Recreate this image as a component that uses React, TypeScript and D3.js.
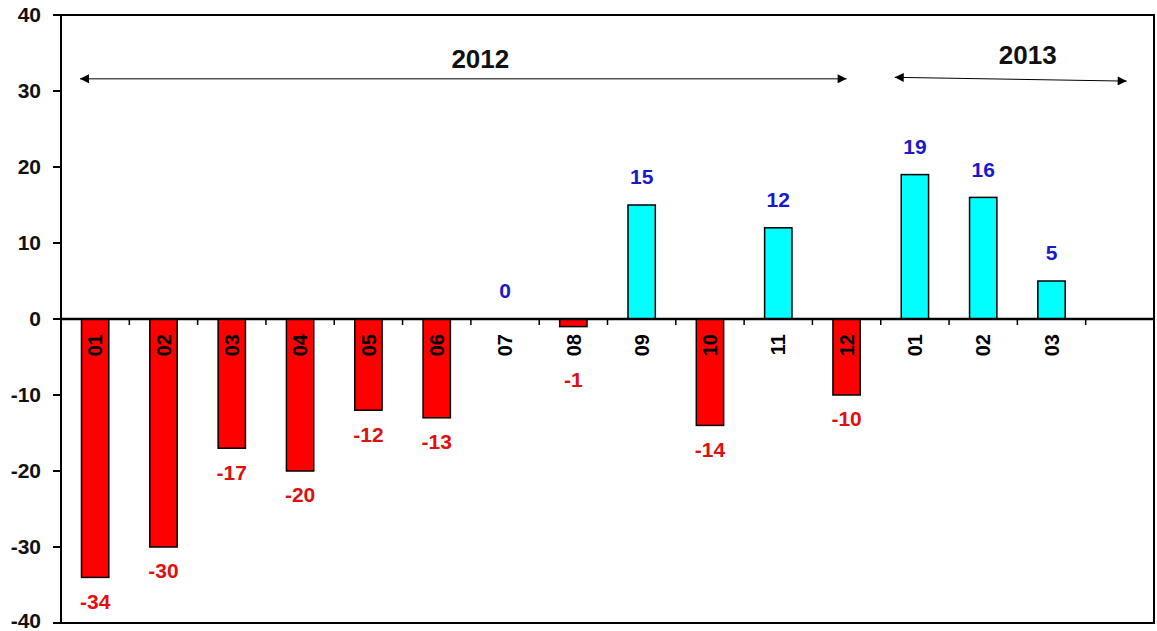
import * as d3 from "d3";

// categories (month labels) and values
const months = ["01", "02", "03", "04", "05", "06", "07", "08", "09", "10", "11", "12", "01", "02", "03"];
const values = [-34, -30, -17, -20, -12, -13, 0, -1, 15, -14, 12, -10, 19, 16, 5];
const yTickValues = [-40, -30, -20, -10, 0, 10, 20, 30, 40];
const years = ["2012", "2013"];

export default function App() {
  const width = 1157;
  const height = 631;
  const marginLeft = 61;
  const marginRight = 3;
  const marginTop = 15;
  const marginBottom = 8;

  const slots = d3.range(months.length + 1); // one empty slot at the end

  const xScale = d3.scaleBand<number>()
    .domain(slots)
    .range([marginLeft, width - marginRight])
    .padding(0);

  const yScale = d3.scaleLinear()
    .domain([-40, 40])
    .range([height - marginBottom, marginTop]);

  const step = xScale.step();
  const barW = step * 0.4;
  const y0 = yScale(0);
  const center = (i: number) => (xScale(i) ?? 0) + step / 2;

  const font = "'Liberation Sans', Arial, sans-serif";

  // year arrows, tied to the category positions
  const arr2012 = { x1: (xScale(0) ?? 0) + 19, x2: center(11), y1: yScale(31.6), y2: yScale(31.6) };
  const arr2013 = { x1: (xScale(12) ?? 0) + 14, x2: (xScale(15) ?? 0) + 41, y1: yScale(31.8), y2: yScale(31.3) };

  return (
    <svg width={width} height={height} style={{ position: "absolute", left: 0, top: 0, background: "#fff" }}>
      <defs>
        <marker id="ah" viewBox="0 0 10 10" refX="10" refY="5" markerWidth="11" markerHeight="9"
          markerUnits="userSpaceOnUse" orient="auto-start-reverse">
          <path d="M0,0 L10,5 L0,10 z" fill="#000" />
        </marker>
      </defs>

      {/* bars */}
      {values.map((v, i) => {
        const yv = yScale(v);
        return (
          <rect key={i}
            x={center(i) - barW / 2}
            y={Math.min(yv, y0)}
            width={barW}
            height={Math.abs(yv - y0)}
            fill={v < 0 ? "#ff0000" : "#00ffff"}
            stroke="#000"
            strokeWidth={1.5}
          />
        );
      })}

      {/* plot frame */}
      <rect x={marginLeft} y={marginTop} width={width - marginRight - marginLeft}
        height={height - marginBottom - marginTop} fill="none" stroke="#000" strokeWidth={2} />

      {/* zero line with category ticks */}
      <line x1={marginLeft} x2={width - marginRight} y1={y0} y2={y0} stroke="#000" strokeWidth={2.5} />
      {slots.slice(1).map((s) => (
        <line key={s} x1={xScale(s)} x2={xScale(s)} y1={y0} y2={y0 + 6} stroke="#000" strokeWidth={1.5} />
      ))}

      {/* y axis ticks */}
      {yTickValues.map((t) => (
        <g key={t} transform={`translate(${marginLeft},${yScale(t)})`}>
          <line x1={-8} x2={0} stroke="#000" strokeWidth={2} />
          <text x={-20} dy={t === -40 ? "0.25em" : "0.35em"} textAnchor="end" fontFamily={font} fontWeight="bold" fontSize={21} fill="#111">
            {t}
          </text>
        </g>
      ))}

      {/* category labels, rotated */}
      {months.map((m, i) => (
        <text key={i}
          transform={`translate(${center(i)},${y0 + 15}) rotate(-90)`}
          textAnchor="end" dy="0.36em"
          fontFamily={font} fontWeight="bold" fontSize={20} fill="#000">
          {m}
        </text>
      ))}

      {/* value labels */}
      {values.map((v, i) => {
        const yv = yScale(v);
        const neg = v < 0;
        const ly = neg ? Math.max(yv + 24, y0 + 61) : yv - 28;
        return (
          <text key={i} x={center(i)} y={ly} dy="0.35em" textAnchor="middle"
            fontFamily={font} fontWeight="bold" fontSize={21}
            fill={neg ? "#e01010" : "#1a1acc"}>
            {v}
          </text>
        );
      })}

      {/* year annotations */}
      <line x1={arr2012.x1} x2={arr2012.x2} y1={arr2012.y1} y2={arr2012.y2} stroke="#000" strokeWidth={1}
        markerStart="url(#ah)" markerEnd="url(#ah)" />
      <text x={(arr2012.x1 + arr2012.x2) / 2 + 17} y={yScale(33)} textAnchor="middle"
        fontFamily={font} fontWeight="bold" fontSize={26} fill="#111">{years[0]}</text>

      <line x1={arr2013.x1} x2={arr2013.x2} y1={arr2013.y1} y2={arr2013.y2} stroke="#000" strokeWidth={1}
        markerStart="url(#ah)" markerEnd="url(#ah)" />
      <text x={(arr2013.x1 + arr2013.x2) / 2 + 17} y={yScale(33.6)} textAnchor="middle"
        fontFamily={font} fontWeight="bold" fontSize={26} fill="#111">{years[1]}</text>
    </svg>
  );
}
